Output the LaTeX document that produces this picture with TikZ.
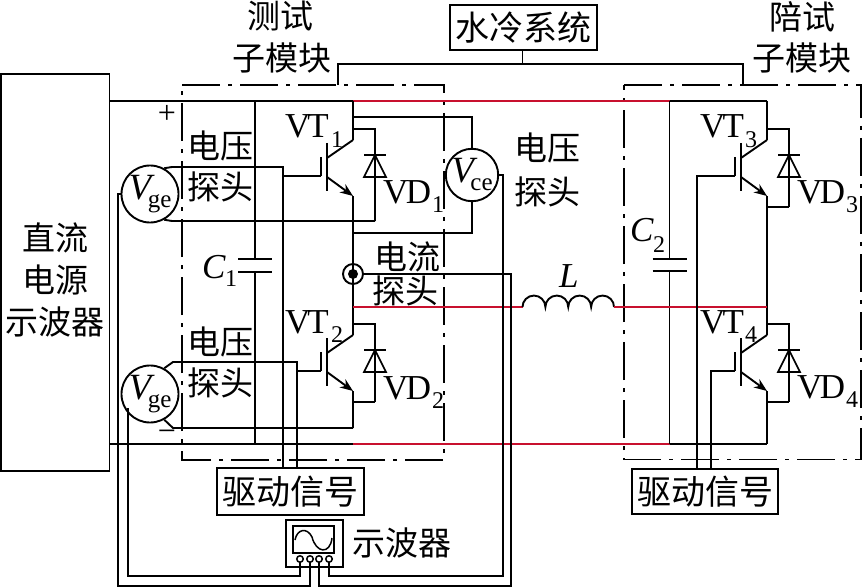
\documentclass[tikz,border=0pt]{standalone}
\usepackage{fontspec}
\setmainfont{Liberation Serif}
\newfontfamily\cjk{Noto Sans CJK SC}
\usetikzlibrary{arrows.meta}
\definecolor{wirered}{HTML}{C8102E}
\newcommand{\latinsz}{\fontsize{35}{38}\selectfont}
\newcommand{\subsz}{\fontsize{24}{26}\selectfont}
\newcommand{\metertext}[1]{\textit{V}\kern-7pt\raisebox{-8pt}{\fontsize{25}{26}\selectfont #1}}
\newcommand{\vtname}{V\kern-3pt T}
\newcommand{\vdname}{V\kern-2.5pt D}
\tikzset{
  x=1pt,y=-1pt,
  wire/.style={line width=1.9pt,line join=miter,black},
  redwire/.style={line width=1.7pt,wirered},
  thinbox/.style={draw,line width=1.8pt,inner sep=0pt},
  cjktext/.style={inner sep=0pt,font=\cjk\fontsize{33}{36}\selectfont},
  cjkbox/.style={thinbox,font=\cjk\fontsize{34}{36}\selectfont},
  lat/.style={inner sep=0pt,anchor=base west,font=\latinsz},
  latsub/.style={inner sep=0pt,anchor=base west,font=\subsz},
  meter/.style={circle,draw,line width=1.9pt,minimum size=50pt,inner sep=0pt,font=\fontsize{37}{38}\selectfont},
  dashbox/.style={line width=1.9pt,dash pattern=on 38pt off 8pt on 4pt off 8pt},
  igbt/.pic={
    \coordinate (-c) at (0,0);
    \coordinate (-e) at (0,56);
    \coordinate (-g) at (-32,36);
    \coordinate (-dt) at (22,-11);
    \coordinate (-db) at (22,67);
    \draw[wire] (0,0) -- (-26,18);
    \draw[wire] (-26,3) -- (-26,51);
    \draw[wire] (-32,17) -- (-32,36);
    \draw[wire,-{Stealth[length=13pt,width=10pt]}] (-26,37) -- (0,56);
    \draw[wire] (11,15) -- (33,15);
    \draw[line width=1.6pt] (22,15) -- (11,37) -- (33,37) -- cycle;
    \draw[wire] (0,-11) -- (22,-11) -- (22,67);
  }
}
\begin{document}
\begin{tikzpicture}
\useasboundingbox (0,0) rectangle (862,588);

% junctions
\coordinate (tl) at (110,101);
\coordinate (tc1) at (255,101);
\coordinate (tr1) at (353,101);
\coordinate (tc2) at (669.5,101);
\coordinate (tr2) at (767,101);
\coordinate (bl) at (110,444);
\coordinate (bc1) at (255,444);
\coordinate (br1) at (353,444);
\coordinate (bc2) at (669.5,444);
\coordinate (br2) at (767,444);
\coordinate (m1) at (353,307);
\coordinate (m2) at (522.5,307);
\coordinate (m4) at (767,307);

% boxes
\node[thinbox,minimum width=108.5pt,minimum height=397pt] (psu) at (55.25,272.5) {};
\node[cjkbox,minimum width=147pt,minimum height=45pt] (water) at (523.5,27.5) {水冷系统};
\node[cjkbox,minimum width=147pt,minimum height=47pt] (drvA) at (290.5,491.5) {驱动信号};
\node[cjkbox,minimum width=146pt,minimum height=45pt] (drvB) at (705,491.5) {驱动信号};
\node[thinbox,minimum width=57pt,minimum height=47pt] (scope) at (314.5,543.5) {};
\node[thinbox,minimum width=41pt,minimum height=27pt] (screen) at (313.5,539.5) {};
\draw[line width=1.5pt] (295,540) .. controls (297,529) and (307,527) .. (312,537)
   .. controls (316,553) and (330,555) .. (332,538);
\foreach \n/\x in {ta/300,tb/310,tc/319,td/329}
  \node[circle,draw,line width=1.5pt,minimum size=6.5pt,inner sep=0pt] (\n) at (\x,559) {};

% meters
\node[meter] (vgeA) at (150,194) {\metertext{ge}};
\node[meter] (vgeB) at (150,394) {\metertext{ge}};
\node[meter] (vce) at (472,175) {\metertext{ce}};

% current probe
\node[circle,draw,line width=1.9pt,minimum size=20pt,inner sep=0pt] (probe) at (353,274) {};
\node[circle,fill=black,minimum size=10pt,inner sep=0pt] (probedot) at (353,274) {};

% switches
\pic (vta) at (353,140) {igbt};
\pic (vtb) at (353,335) {igbt};
\pic (vtc) at (767,140) {igbt};
\pic (vtd) at (767,335) {igbt};

% submodule outlines
\coordinate (sa1) at (182,85);
\coordinate (sa2) at (444,460);
\coordinate (sb1) at (624,85);
\coordinate (sb2) at (861,459.5);
\draw[dashbox] (sa1) -- (sa1 -| sa2) -- (sa2) -- (sa2 -| sa1) -- cycle;
\draw[dashbox] (sb1) -- (sb1 -| sb2) -- (sb2) -- (sb2 -| sb1) -- cycle;

% DC bus
\draw[wire] (tl) -- (tr1);
\draw[redwire] (tr1) -- (tc2);
\draw[wire] (tc2) -- (tr2);
\draw[wire] (bl) -- (br1);
\draw[redwire] (br1) -- (bc2);
\draw[wire] (bc2) -- (br2);

% legs
\draw[wire] (tr1) -- (vta-c);
\draw[wire] (vta-e) -- (vtb-c);
\coordinate (ga) at (353,428);
\draw[wire] (vtb-e) -- (ga);
\draw[wire] (tr2) -- (vtc-c);
\draw[wire] (vtc-e) -- (vtd-c);
\draw[wire] (vtd-e) -- (br2);

% diode returns
\coordinate (da) at (375,221);
\draw[wire] (vta-db) -- (da);
\draw[wire] (vtb-db) -- (vtb-db -| vtb-e);
\draw[wire] (vtc-db) -- (vtc-db -| vtc-e);
\draw[wire] (vtd-db) -- (vtd-db -| vtd-e);

% capacitors
\coordinate (caa) at (255,259);
\coordinate (cab) at (255,272);
\coordinate (cba) at (669.5,259);
\coordinate (cbb) at (669.5,271);
\draw[wire] (tc1) -- (caa) (cab) -- (bc1);
\draw[wire] ([xshift=-17pt]caa) -- ([xshift=17pt]caa);
\draw[wire] ([xshift=-17pt]cab) -- ([xshift=17pt]cab);
\draw[wire] (tc2) -- (cba) (cbb) -- (bc2);
\draw[wire] ([xshift=-17pt]cba) -- ([xshift=17pt]cba);
\draw[wire] ([xshift=-17pt]cbb) -- ([xshift=17pt]cbb);

% midpoint and inductor
\draw[redwire] (m1) -- (m2);
\draw[wire] (m2) arc[start angle=180,end angle=0,radius=11.44pt]
  arc[start angle=180,end angle=0,radius=11.44pt]
  arc[start angle=180,end angle=0,radius=11.44pt]
  arc[start angle=180,end angle=0,radius=11.44pt] coordinate (m3b);
\draw[redwire] (m3b) -- (m4);

% water cooling branch
\coordinate (wj) at (522.5,64);
\coordinate (wa) at (338,85);
\coordinate (wb) at (743,85);
\draw[wire] (water.south -| wj) -- (wj);
\draw[wire] (wa) |- (wj) -| (wb);

% Vge A probe
\coordinate (ua) at (172,167);
\coordinate (ub) at (283,167);
\coordinate (uc) at (172,221);
\draw[wire] (vgeA.61) -- (ua) -- (ub) -- (ub |- drvA.north);
\draw[wire] (vta-g) -- (vta-g -| ub);
\draw[wire] (vgeA.-61) -- (uc) -- (da);

% Vge B probe
\coordinate (va) at (173,362);
\coordinate (vb) at (297,362);
\coordinate (vc) at (173,428);
\draw[wire] (vgeB.61) -- (va) -- (vb) -- (vb |- drvA.north);
\draw[wire] (vtb-g) -- (vtb-g -| vb);
\draw[wire] (vgeB.-61) -- (vc) -- (ga);

% Vce probe
\coordinate (ca) at (472,117);
\coordinate (cb) at (472,233);
\draw[wire] (ca -| tr1) -- (ca) -- (vce.north);
\draw[wire] (vce.south) -- (cb) -- (cb -| tr1);

% gate drives, right half
\coordinate (xa) at (697,176);
\coordinate (xb) at (711,371);
\draw[wire] (vtc-g) -- (xa) -- (xa |- drvB.north);
\draw[wire] (vtd-g) -- (xb) -- (xb |- drvB.north);

% oscilloscope leads
\coordinate (la) at (128,576);
\coordinate (lb) at (118,586);
\coordinate (lc) at (511,586);
\coordinate (ld) at (503,576);
\draw[wire] (ta.south) |- (la) -- (la |- vgeB.208);
\draw[wire] (tb.south) |- (lb) |- (vgeA.west);
\draw[wire] (tc.south) |- (lc) |- (probe.east);
\draw[wire] (td.south) |- (ld) |- (vce.east);

% Chinese labels
\node[cjktext] (t1) at (280,16) {测试};
\node[cjktext] (t2) at (282,58) {子模块};
\node[cjktext] (t3) at (802,17) {陪试};
\node[cjktext] (t4) at (802,58) {子模块};
\node[cjktext] (t5) at (55,238) {直流};
\node[cjktext] (t6) at (55,280) {电源};
\node[cjktext] (t7) at (55,322) {示波器};
\node[cjktext] (t8) at (220,146) {电压};
\node[cjktext] (t9) at (220,187) {探头};
\node[cjktext] (t10) at (220,342) {电压};
\node[cjktext] (t11) at (220,383) {探头};
\node[cjktext] (t12) at (547,148) {电压};
\node[cjktext] (t13) at (547,192) {探头};
\node[cjktext] (t14) at (407,257) {电流};
\node[cjktext] (t15) at (405,291) {探头};
\node[cjktext] (t16) at (402,543) {示波器};

% Latin labels
\node[lat] (l1) at (285,138) {\vtname};
\node[latsub] (l1s) at (331,148) {1};
\node[lat] (l2) at (285,333) {\vtname};
\node[latsub] (l2s) at (331,342) {2};
\node[lat] (l3) at (700,138) {\vtname};
\node[latsub] (l3s) at (745,148) {3};
\node[lat] (l4) at (700,333) {\vtname};
\node[latsub] (l4s) at (745,342) {4};
\node[lat] (d1) at (383,204) {\vdname};
\node[latsub] (d1s) at (432,213) {1};
\node[lat] (d2) at (383,399) {\vdname};
\node[latsub] (d2s) at (432,408) {2};
\node[lat] (d3) at (797,204) {\vdname};
\node[latsub] (d3s) at (846,213) {3};
\node[lat] (d4) at (797,398) {\vdname};
\node[latsub] (d4s) at (846,407) {4};
\node[lat] (cl1) at (202,278) {\textit{C}};
\node[latsub] (cl1s) at (225,286) {1};
\node[lat] (cl2) at (630,242) {\textit{C}};
\node[latsub] (cl2s) at (653,252) {2};
\node[lat] (ll) at (559,287) {\textit{L}};
\node[inner sep=0pt,font=\fontsize{32}{36}\selectfont] (plus) at (167,114) {+};
\node[inner sep=0pt,font=\fontsize{32}{36}\selectfont] (minus) at (167,436) {−};
\end{tikzpicture}
\end{document}
